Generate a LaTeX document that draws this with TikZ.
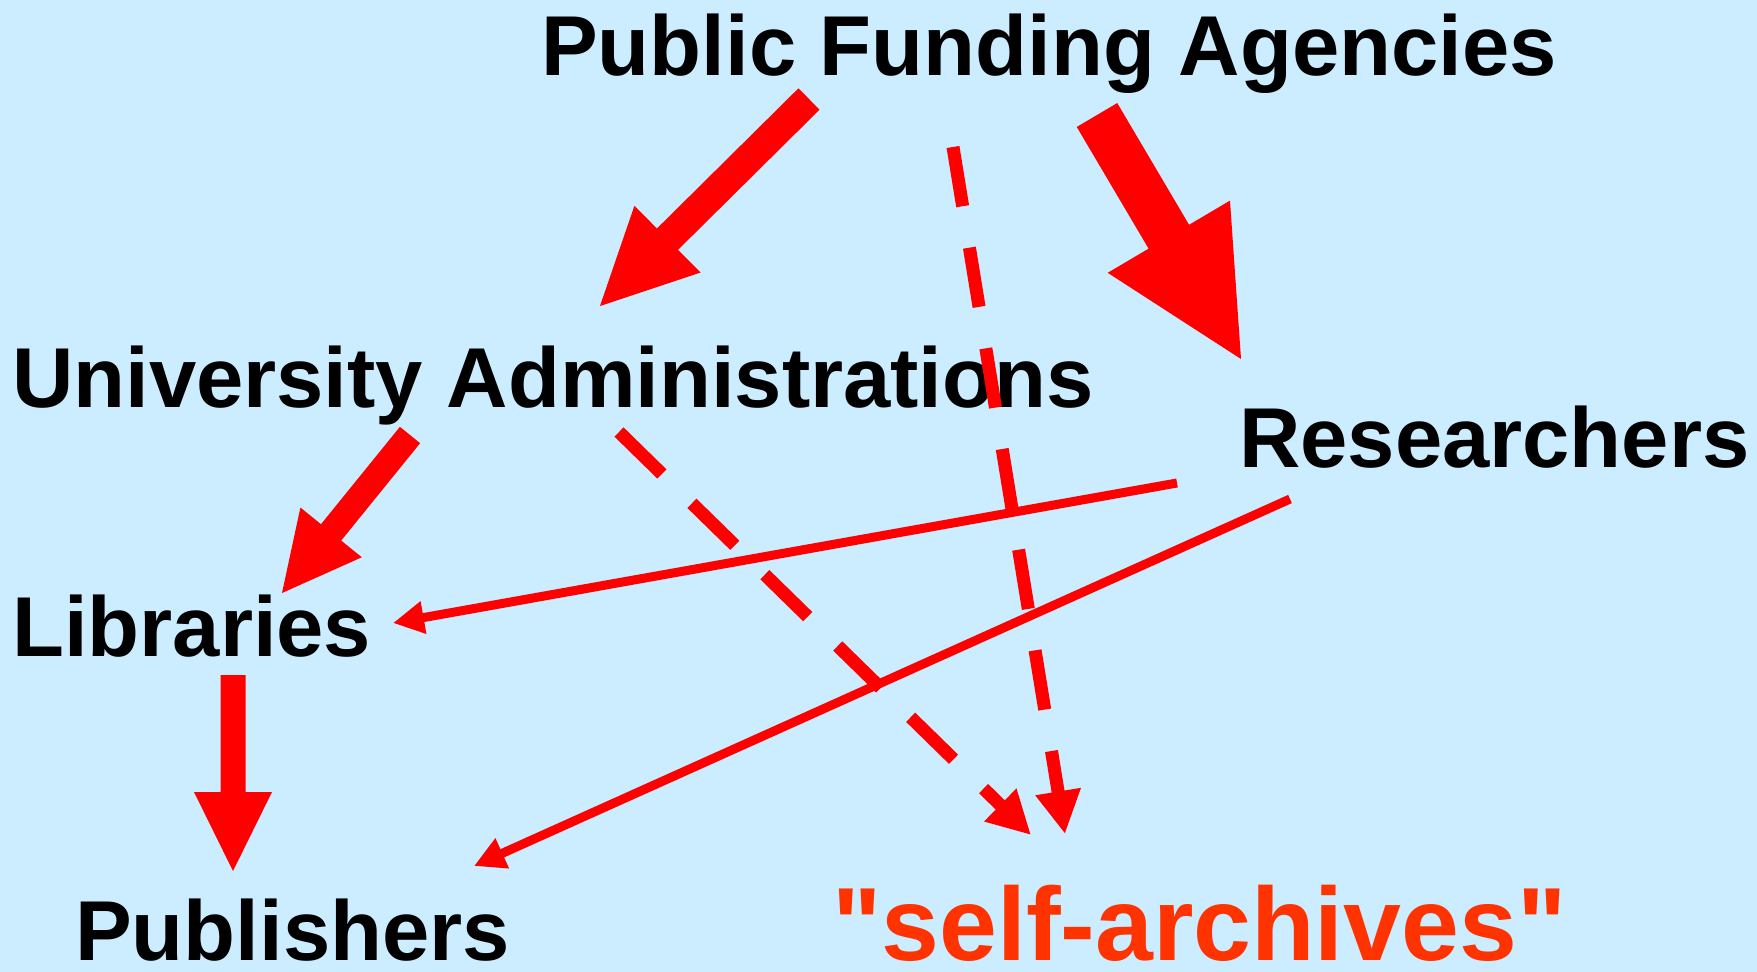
\documentclass[tikz,border=0pt]{standalone}
\usepackage{fontspec}
\setmainfont{Liberation Sans}[Ligatures=TeXOff]
\usepackage{xcolor}
\usetikzlibrary{arrows.meta,calc}

\definecolor{skyback}{RGB}{204,236,255}
\definecolor{arrowred}{RGB}{255,0,0}
\definecolor{archivered}{RGB}{255,51,0}

\tikzset{
    actor/.style={anchor=base west, inner sep=0pt, font=\fontsize{85}{100}\selectfont\bfseries},
    thinflow/.style={draw=arrowred, line width=9pt, -{Triangle[length=31pt,width=31pt]}},
    dashflow/.style={draw=arrowred, line width=13pt, dash pattern=on 60pt off 42pt, -{Triangle[length=43pt,width=43pt]}}
}

\newcommand{\blockarrow}[5]{%
    \coordinate (ba) at ($(#2)!#5!(#1)$);
    \fill[arrowred] ($(#1)!#3!90:(#2)$) -- ($(ba)!#3!90:(#2)$) -- ($(ba)!#4!90:(#2)$) -- (#2)
        -- ($(ba)!#4!-90:(#2)$) -- ($(ba)!#3!-90:(#2)$) -- ($(#1)!#3!-90:(#2)$) -- cycle;}

\begin{document}
\begin{tikzpicture}[x=1pt, y=-1pt]
    \fill[skyback] (0,0) rectangle (1757,972);
    \useasboundingbox (0,0) rectangle (1757,972);

    \node[actor] (pfa) at (541,75) {Public Funding Agencies};
    \node[actor] (ua) at (12,407) {University Administrations};
    \node[actor] (res) at (1239,467) {Researchers};
    \node[actor] (lib) at (12,656) {Libraries};
    \node[actor] (pub) at (75,960) {Publishers};
    \node[actor, font=\fontsize{104}{120}\selectfont\bfseries, text=archivered] (sa) at (832,960) {"self-archives"};

    \coordinate (pfa-ua) at (809,99);
    \coordinate (ua-top) at (600,306);
    \coordinate (pfa-res) at (1097,115);
    \coordinate (res-top) at (1241,359);
    \coordinate (ua-lib) at (410,435);
    \coordinate (lib-top) at (282,593);
    \coordinate (lib-pub) at (233,675);
    \coordinate (pub-top) at (233,871);
    \coordinate (res-lib) at (1177,483);
    \coordinate (lib-right) at (393,623);
    \coordinate (res-pub) at (1290,499);
    \coordinate (pub-right) at (474,866);
    \coordinate (pfa-sa) at (953,147);
    \coordinate (sa-top) at (1065,834);
    \coordinate (ua-sa) at (619,432);
    \coordinate (sa-left) at (1031,835);

    \blockarrow{pfa-ua}{ua-top}{15pt}{47pt}{95pt}
    \blockarrow{pfa-res}{res-top}{23.5pt}{71pt}{142pt}
    \blockarrow{ua-lib}{lib-top}{13pt}{39.5pt}{78pt}
    \blockarrow{lib-pub}{pub-top}{12.5pt}{39pt}{79pt}

    \draw[dashflow] (pfa-sa) -- (sa-top);
    \draw[dashflow] (ua-sa) -- (sa-left);
    \draw[thinflow] (res-lib) -- (lib-right);
    \draw[thinflow] (res-pub) -- (pub-right);
\end{tikzpicture}
\end{document}
